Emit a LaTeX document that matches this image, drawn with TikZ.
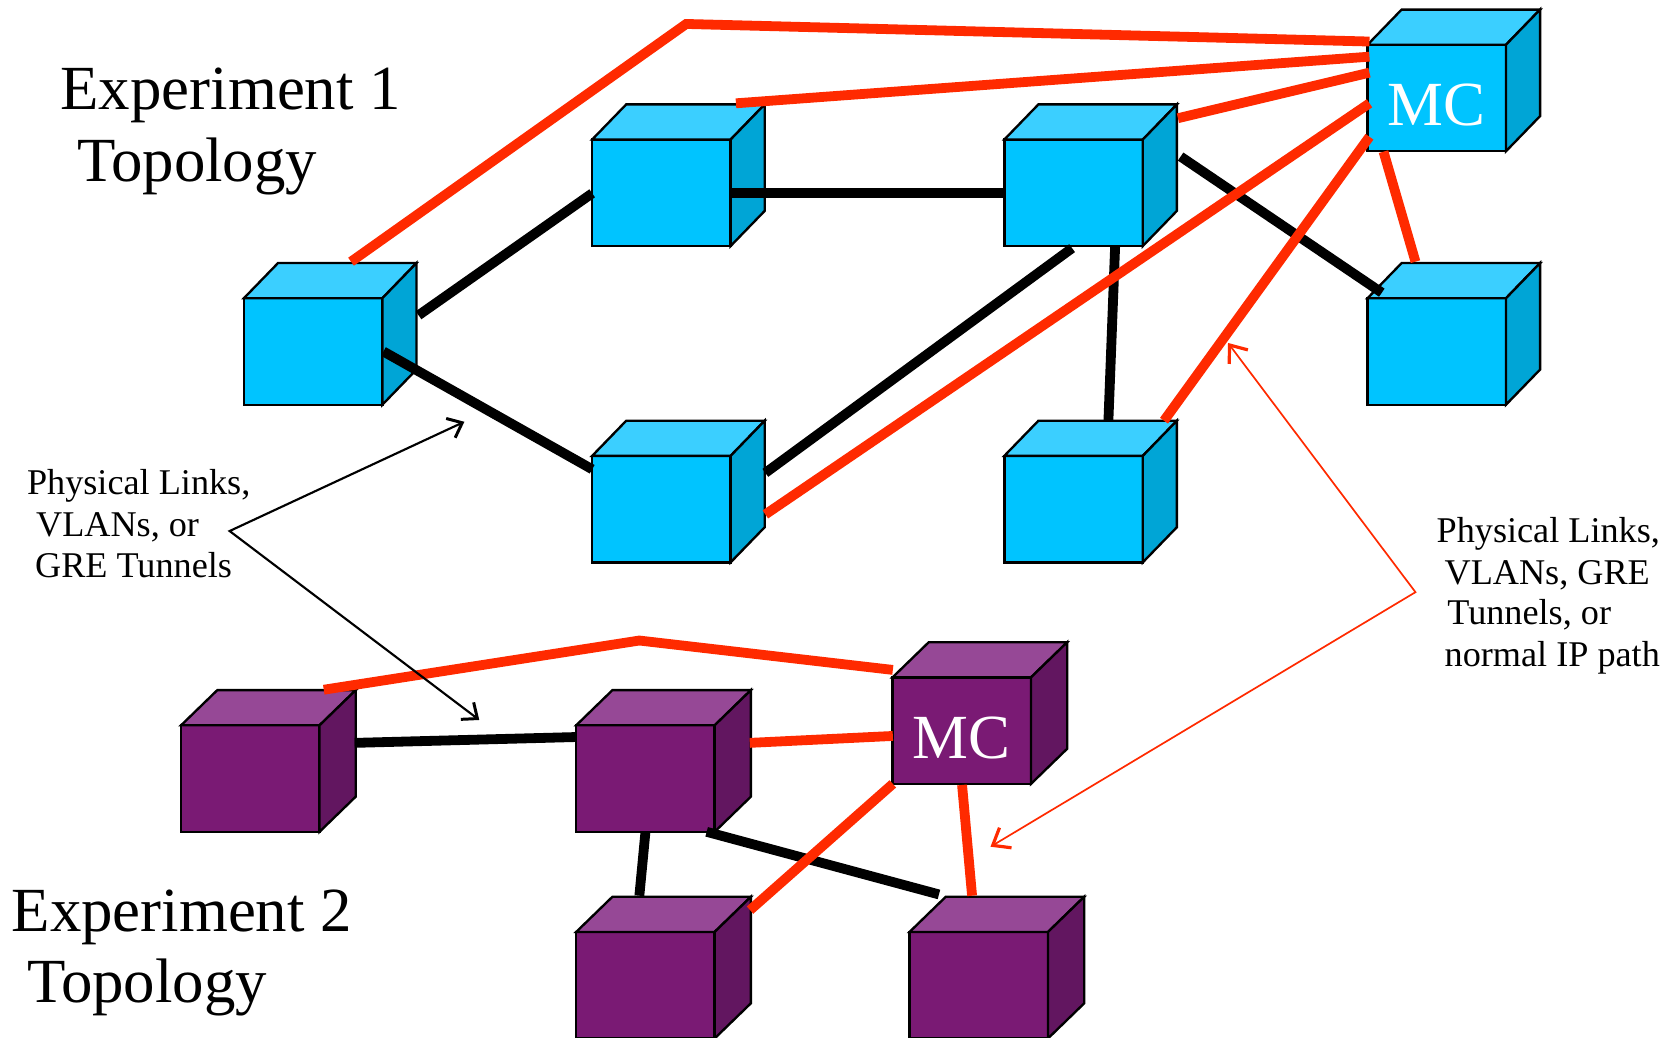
\documentclass[tikz,border=0pt]{standalone}
\usepackage{fontspec}
\setmainfont{Liberation Serif}
\usetikzlibrary{arrows.meta,calc}
\definecolor{bfront}{HTML}{00C4FF}
\definecolor{btop}{HTML}{3BCFFF}
\definecolor{bside}{HTML}{00A5D6}
\definecolor{pfront}{HTML}{7A1A74}
\definecolor{ptop}{HTML}{964896}
\definecolor{pside}{HTML}{621660}
\definecolor{linkred}{HTML}{FF2A00}
\tikzset{
  cubeedge/.style={draw=black, line width=1.1pt, line join=miter},
  cubefront/.style={rectangle, cubeedge, anchor=north west, minimum width=65pt,
    minimum height=50pt, inner sep=0pt, outer sep=0pt},
  wire/.style={draw=black, line width=4.6pt, line cap=butt},
  redlink/.style={draw=linkred, line width=4.6pt, line cap=butt, line join=miter},
  bigtxt/.style={font=\fontsize{29.5}{34}\selectfont, inner sep=0pt, anchor=base west},
  smalltxt/.style={font=\fontsize{17}{19}\selectfont, inner sep=0pt, anchor=base west},
  mclabel/.style={font=\fontsize{29.5}{34}\selectfont, text=white, inner sep=0pt, anchor=base},
  callout/.style={draw=black, line width=1pt,
    arrows={Straight Barb[length=6pt,width=10pt,line width=1.4pt]-Straight Barb[length=6pt,width=10pt,line width=1.4pt]}},
  redcallout/.style={draw=linkred, line width=0.8pt,
    arrows={Straight Barb[length=7pt,width=11pt,line width=1.5pt]-Straight Barb[length=7pt,width=11pt,line width=1.5pt]}},
}
% name, x, y, colour prefix (b/p), depth x
\newcommand\mycube[5]{%
  \node[cubefront, fill=#4front] (#1) at (#2,#3) {};
  \path[cubeedge, fill=#4top] (#1.north west) -- ([shift={(#5,-33)}]#1.north west)
    -- ([shift={(#5,-33)}]#1.north east) -- (#1.north east) -- cycle;
  \path[cubeedge, fill=#4side] (#1.north east) -- ([shift={(#5,-33)}]#1.north east)
    -- ([shift={(#5,-33)}]#1.south east) -- (#1.south east) -- cycle;
}
\begin{document}
\begin{tikzpicture}[x=0.5pt,y=-0.5pt]
\useasboundingbox (0,0) rectangle (1568,974);

% Experiment 1 cubes
\mycube{A}{229}{280}{b}{32}
\mycube{B}{556}{131}{b}{32}
\mycube{C}{943}{131}{b}{32}
\mycube{MC}{1284}{42}{b}{32}
\mycube{E}{1284}{280}{b}{32}
\mycube{F}{556}{428}{b}{32}
\mycube{G}{943}{428}{b}{32}
\node[mclabel] (mc1t) at ([shift={(65,75.4)}]MC.north west) {MC};

% Experiment 2 cubes
\mycube{P1}{170}{681}{p}{34}
\mycube{P2}{541}{681}{p}{34}
\mycube{PM}{838}{636}{p}{34}
\mycube{P3}{541}{875}{p}{34}
\mycube{P4}{854}{875}{p}{34}
\node[mclabel] (mc2t) at ([shift={(65,76)}]PM.north west) {MC};

% black links, experiment 1
\draw[wire] ([shift={(164,16)}]A.north west) -- ([shift={(0,50.5)}]B.north west);
\draw[wire] ([shift={(131,50)}]A.north west) -- ([shift={(0,12.6)}]F.north west);
\draw[wire] ([shift={(130.5,50.5)}]B.north west) -- ([shift={(0,50.5)}]C.north west);
\draw[wire] ([shift={(165.5,16)}]C.north west) -- ([shift={(13.4,-5.2)}]E.north west);
\draw[wire] ([shift={(104,100.6)}]C.north west) -- ([shift={(97.7,-33)}]G.north west);
\draw[wire] ([shift={(63.6,102)}]C.north west) -- ([shift={(162.6,16)}]F.north west);

% red links, experiment 1
\coordinate (k1) at (644.3,22.5);
\draw[redlink] ([shift={(100.6,-34.3)}]A.north west) -- (k1) -- ([shift={(1.8,-3)}]MC.north west);
\draw[redlink] ([shift={(135,-34)}]B.north west) -- ([shift={(1.8,11.2)}]MC.north west);
\draw[redlink] ([shift={(163,-20)}]C.north west) -- ([shift={(1.8,26.2)}]MC.north west);
\draw[redlink] ([shift={(162.6,55)}]F.north west) -- ([shift={(1.8,55)}]MC.north west);
\draw[redlink] ([shift={(149.9,-33)}]G.north west) -- ([shift={(1.8,86.4)}]MC.north west);
\draw[redlink] ([shift={(15,100.4)}]MC.north west) -- ([shift={(45,-34.3)}]E.north west);

% black links, experiment 2
\draw[wire] ([shift={(163,16.5)}]P1.north west) -- ([shift={(0.3,11)}]P2.north west);
\draw[wire] ([shift={(65,100.3)}]P2.north west) -- ([shift={(59.3,-34)}]P3.north west);
\draw[wire] ([shift={(122.5,100)}]P2.north west) -- ([shift={(27.6,-35.2)}]P4.north west);

% red links, experiment 2
\coordinate (k2) at (600.3,601.4);
\draw[redlink] ([shift={(134,-33.4)}]P1.north west) -- (k2) -- ([shift={(0.3,-7)}]PM.north west);
\draw[redlink] ([shift={(163,16.5)}]P2.north west) -- ([shift={(0.3,55)}]PM.north west);
\draw[redlink] ([shift={(0.3,100)}]PM.north west) -- ([shift={(163.2,-20.5)}]P3.north west);
\draw[redlink] ([shift={(65.3,101)}]PM.north west) -- ([shift={(58.7,-34)}]P4.north west);

% titles
\node[bigtxt] (e1a) at (56.5,102.7) {Experiment 1};
\node[bigtxt] (e1b) at (72,170) {Topology};
\node[bigtxt] (e2a) at (10.5,875) {Experiment 2};
\node[bigtxt] (e2b) at (25,941.5) {Topology};

% left label and callout
\node[smalltxt] (l1) at (25,464.6) {Physical Links,};
\node[smalltxt] (l2) at (33.5,504) {VLANs, or};
\node[smalltxt] (l3) at (32.6,542) {GRE Tunnels};
\coordinate (lv) at (215.6,498.6);
\coordinate (lt1) at (436,396);
\coordinate (lt2) at (450,676);
\draw[callout] (lt1) -- (lv) -- (lt2);

% right label and callout
\node[smalltxt] (r1) at (1348.5,509.7) {Physical Links,};
\node[smalltxt] (r2) at (1356,549) {VLANs, GRE};
\node[smalltxt] (r3) at (1358.6,586) {Tunnels, or};
\node[smalltxt] (r4) at (1356,625.5) {normal IP path};
\coordinate (rv) at (1329,556);
\coordinate (rt1) at (1153,322);
\coordinate (rt2) at (930,795);
\draw[redcallout] (rt1) -- (rv) -- (rt2);
\end{tikzpicture}
\end{document}
